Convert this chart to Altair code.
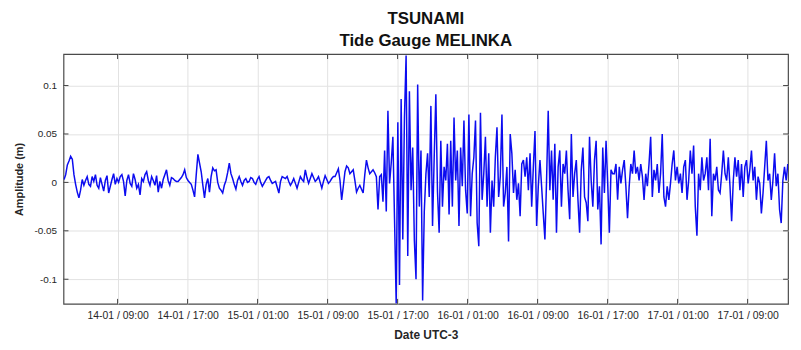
import altair as alt
import pandas as pd

# ---- data (amplitude in millimetres) ----
# regular tide-gauge sampling
START_HOUR = 2.882          # hours after 14-01 00:00 (UTC-3)
STEP_HOURS = 0.18884        # sampling interval (~11.3 min)

seg_1 = [3, 8, 18, 22, 27, 24, 8, -2, -10, -16, -8, 3, -3, 2, 6, -2, -4, 6, 1, 8,
         -3, -6, 5, -2, -9, 2, 7, -11, -4, 3, 9, -2, 4, 0, 6, 8, 1, -14, 2, 8,
         -1, -4, 9, 3, -6, -2, -13, 4, 1, 8, 11, 2, -3, 6, 2, -3, 7, -10, 1, -6,
         3, 8, 13, 2, -3, 5]
seg_2 = [4, 2, 1, 1, 3, 5, 8, 13, 5, 2, 0, -2, -8, -15, 8, 29, 20, 11, -3, -16,
         -2, 4, -10, 6, 15, 12, 13, 0, -6, -8, -11, -3, 2, 10, 20, 9, 4, -2, -7, 2,
         6, 1, -3, 2, 4, 0, 1, 5, 4, 0, -2, 3, 6, 0, -4, -1, 2, 5, 6, 2,
         -1, 0, 1, -5, -11, 1, 6, 5, 4]
seg_3 = [6, 1, -3, 0, 4, -1, -6, 0, 6, 3, 1, 13, 5, -1, 4, 9, 5, 1, 3, 6,
         0, -6, 1, 7, 3, -1, 1, 4, 6, 6, 10, 14, 2, -18, -4, 11, 17, 15, 9, 11,
         13, 2, -10, -6, -3, -7, -11, 8]
seg_4 = [23, 15, 9, 11, 13, 10, 6, -28, 6, 8, -20, 33, -30, 74, -1, 20, 47, -38, -125, 62,
         -106, 86, -59, 67, 131, -76, 94, -8, 36, -60, -100, 101, -25, 33, -122, -30, 9, 30, -15, 79,
         -45, 26, 91, -10, -52, 43, -25, 16, 2, 40, -33, 43, -25, 67]
seg_5 = [2, 33, -45, 36, -4, 64, -8, -32, 70, -35, 9, 26, 64, -42, -66, 72, -18, 9, 47, -25,
         30, -52, 2, -25, 26, 57, -15, 6, 70, -25, -11, 16, -61, 50, 30, -11, 13, -18, -1, -35,
         19, 23, 6, 26, -8, 30, -25, 16, 53, -45, -4, 23, -4, -32, -59, 2, 74, -8, 33, -18,
         40, -52, 16, 33, -25, 19]
seg_6 = [9, 33, -8, -38, 50, -15, 9, 23, -18, -52, 13, 36, -15, -21, -40, 47, 2, -25, 23, 43,
         -28, -4, -64, 36, -11, 43, -1, -52, 13, 9, 9, 19, -18, 16, -1, 13, 23, -4, -37, -4,
         19, 9, 33, 9, 16, 2, 19, 6, -18, 9, -4, 19, 47, -15, 13, 2, 19, -11, 9, 50,
         -15, -25, -4, -18, -1, 19]
seg_7 = [33, 2, 16, -1, 9, -11, 16, 23, -18, 2, 33, 9, 38, -25, -55, 9, -8, 26, 2, 9,
         26, -8, 45, -35, 9, 2, 16, -8, -11, 9, 33, 9, 2, 26, -4, -40, 2, 26, 6, 23,
         -8, 19, -15, 16, 23, -1, 13, 33, 2, 16, -18, 6, -1, -32, -11, 16, 43, 2, 9, -18,
         2, 30, -4, 9, -28, -42, 2, 16, 2, 19]

tick_hours = [9, 17, 25, 33, 41, 49, 57, 65, 73, 81]
tick_labels = ["14-01 / 09:00", "14-01 / 17:00", "15-01 / 01:00", "15-01 / 09:00",
               "15-01 / 17:00", "16-01 / 01:00", "16-01 / 09:00", "16-01 / 17:00",
               "17-01 / 01:00", "17-01 / 09:00"]
y_ticks = [-0.1, -0.05, 0, 0.05, 0.1]
y_labels = ["-0.1", "-0.05", "0", "0.05", "0.1"]

X_DOMAIN = [2.82, 85.62]
Y_DOMAIN = [-0.1254, 0.1325]

# ---- build table ----
mm = seg_1 + seg_2 + seg_3 + seg_4 + seg_5 + seg_6 + seg_7
df = pd.DataFrame({
    "hours": [START_HOUR + i * STEP_HOURS for i in range(len(mm))],
    "amplitude": [v / 1000.0 for v in mm],
})
xt = pd.DataFrame({"hours": tick_hours})
yt = pd.DataFrame({"amplitude": y_ticks})

W, H = 731, 252

x_label_expr = "[" + ",".join("'%s'" % s for s in tick_labels) + "][indexof([" + \
    ",".join(str(h) for h in tick_hours) + "], datum.value)]"
y_label_expr = "[" + ",".join("'%s'" % s for s in y_labels) + "][indexof([" + \
    ",".join(str(v) for v in y_ticks) + "], datum.value)]"

xscale = alt.Scale(domain=X_DOMAIN, nice=False, zero=False)
yscale = alt.Scale(domain=Y_DOMAIN, nice=False, zero=False)

line = alt.Chart(df).mark_line(color="#0c0cf0", strokeWidth=1.5, clip=True).encode(
    x=alt.X("hours:Q", scale=xscale,
            axis=alt.Axis(values=tick_hours, labelExpr=x_label_expr, title="Date UTC-3",
                          grid=True, gridColor="#e2e2e2", ticks=False, domain=False,
                          labelFontSize=10.5, labelColor="#262626", labelFont="Liberation Sans",
                          labelPadding=7, titleFontSize=12, titleFont="Liberation Sans",
                          titleFontWeight="bold", titleColor="#262626", titlePadding=8,
                          labelOverlap=False)),
    y=alt.Y("amplitude:Q", scale=yscale,
            axis=alt.Axis(values=y_ticks, labelExpr=y_label_expr, title="Amplitude (m)",
                          grid=True, gridColor="#e2e2e2", ticks=False, domain=False,
                          labelFontSize=10, labelColor="#262626", labelFont="Liberation Sans",
                          labelPadding=7, titleFontSize=11, titleFont="Liberation Sans",
                          titleFontWeight="bold", titleColor="#262626", titlePadding=10)),
)

tick_color = "#404040"
top_ticks = alt.Chart(xt).mark_rule(color=tick_color, strokeWidth=1).encode(
    x=alt.X("hours:Q", scale=xscale), y=alt.value(0), y2=alt.value(5))
bot_ticks = alt.Chart(xt).mark_rule(color=tick_color, strokeWidth=1).encode(
    x=alt.X("hours:Q", scale=xscale), y=alt.value(H - 5), y2=alt.value(H))
left_ticks = alt.Chart(yt).mark_rule(color=tick_color, strokeWidth=1).encode(
    y=alt.Y("amplitude:Q", scale=yscale), x=alt.value(0), x2=alt.value(5))
right_ticks = alt.Chart(yt).mark_rule(color=tick_color, strokeWidth=1).encode(
    y=alt.Y("amplitude:Q", scale=yscale), x=alt.value(W - 5), x2=alt.value(W))

chart = alt.layer(line, top_ticks, bot_ticks, left_ticks, right_ticks).properties(
    width=W, height=H,
    title=alt.TitleParams(text=["TSUNAMI", "Tide Gauge MELINKA"], fontSize=17,
                          font="Liberation Sans", fontWeight="bold", color="#111111",
                          anchor="middle", lineHeight=22, offset=4),
    autosize=alt.AutoSizeParams(type="none"),
    padding={"left": 56, "top": 45, "right": 5, "bottom": 36},
).configure_view(stroke="#4a4a4a", strokeWidth=1.2)

chart.save("out.html", embed_options={"renderer": "svg", "actions": False})
